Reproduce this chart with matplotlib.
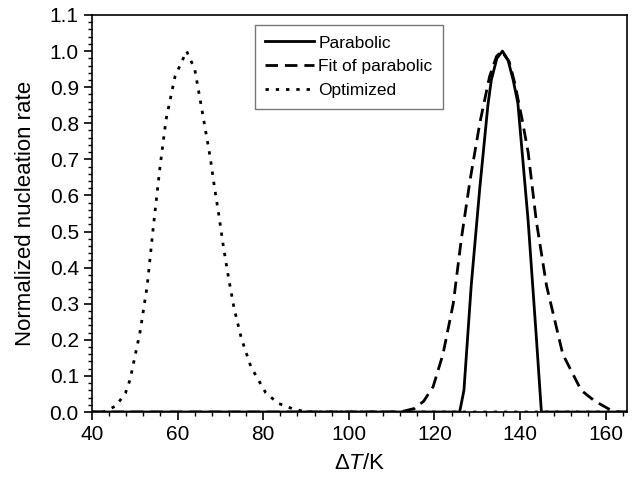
import matplotlib
matplotlib.use('Agg')
import matplotlib.pyplot as plt
from matplotlib.ticker import MultipleLocator

plt.rcParams['font.family'] = ['Liberation Sans', 'DejaVu Sans']
plt.rcParams['mathtext.fontset'] = 'custom'
plt.rcParams['mathtext.rm'] = 'Liberation Sans'
plt.rcParams['mathtext.it'] = 'Liberation Sans:italic'

# values
par_x = [40, 125.9, 126.9, 128.6, 130.6, 132.5, 133.3, 134.6, 135.9, 137.2, 138.4, 139.5, 141.9, 143.8, 145.0, 165]
par_y = [0, 0, 0.06, 0.35, 0.62, 0.85, 0.92, 0.98, 1.0, 0.975, 0.92, 0.856, 0.53, 0.21, 0, 0]

fit_x = [40, 112, 115.4, 117.5, 119.7, 122.0, 124.4, 126.3, 128.3, 130.6, 132.9, 134.5, 135.7,
         137.5, 138.8, 140.5, 141.9, 143.8, 146.2, 150.0, 154.3, 157.5, 160.5, 162, 165]
fit_y = [0, 0, 0.01, 0.03, 0.07, 0.16, 0.30, 0.48, 0.64, 0.80, 0.93, 0.985, 1.0,
         0.97, 0.91, 0.81, 0.72, 0.53, 0.35, 0.16, 0.06, 0.03, 0.01, 0, 0]

opt_x = [40, 42.7, 45.6, 47.8, 48.9, 51.2, 52.9, 54.3, 55.9, 57.3, 59.4, 62.1, 64.0, 65.2,
         67.6, 68.6, 69.7, 70.7, 71.9, 73.2, 74.9, 77.1, 80.6, 83.5, 86.9, 90, 165]
opt_y = [0, 0, 0.017, 0.052, 0.09, 0.22, 0.35, 0.51, 0.68, 0.81, 0.93, 1.0, 0.95, 0.87,
         0.707, 0.624, 0.541, 0.458, 0.372, 0.287, 0.204, 0.126, 0.053, 0.024, 0.009, 0, 0]

fig = plt.figure(figsize=(6.38, 4.82), dpi=100)
ax = fig.add_axes([92/638, 1-412/482, (627-92)/638, (412-15)/482])

ax.plot(par_x, par_y, '-', color='black', lw=2, label='Parabolic')
ax.plot(fit_x, fit_y, color='black', lw=2, dashes=(4.5, 2.5), label='Fit of parabolic')
ax.plot(opt_x, opt_y, color='black', lw=2, dashes=(1.2, 2.5), label='Optimized')

ax.set_xlim(40, 165)
ax.set_ylim(0, 1.1)
ax.xaxis.set_major_locator(MultipleLocator(20))
ax.xaxis.set_minor_locator(MultipleLocator(4))
ax.yaxis.set_major_locator(MultipleLocator(0.1))
ax.yaxis.set_minor_locator(MultipleLocator(0.02))
ax.yaxis.set_major_formatter(matplotlib.ticker.FormatStrFormatter('%.1f'))
ax.tick_params(which='major', direction='out', length=6, width=1.2, labelsize=15)
ax.tick_params(which='minor', direction='out', length=3, width=1.0)
for s in ax.spines.values():
    s.set_linewidth(1.2)

ax.set_xlabel(r'$\Delta\mathit{T}$/K', fontsize=16, labelpad=6)
ax.set_ylabel('Normalized nucleation rate', fontsize=16, labelpad=10)

leg = ax.legend(loc='upper left', bbox_to_anchor=(255/638, 1-25/482),
                bbox_transform=fig.transFigure, borderaxespad=0, fontsize=12.5,
                frameon=True, fancybox=False, edgecolor='#555555', handlelength=2.8,
                borderpad=0.6, labelspacing=0.5, handletextpad=0.25)
leg.get_frame().set_linewidth(1.0)

fig.savefig('out.png', dpi=100)
